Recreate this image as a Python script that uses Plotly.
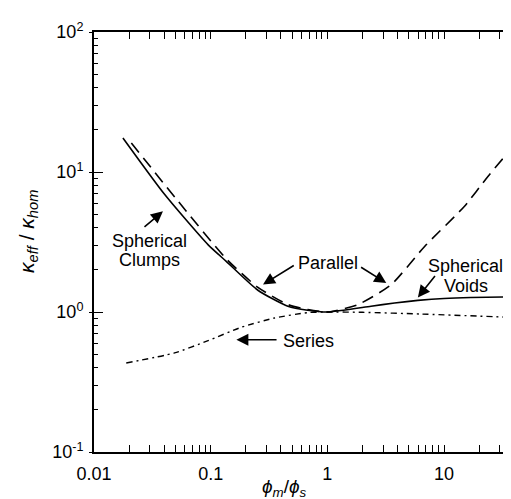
import math
import plotly.graph_objects as go

L = math.log10

# Spherical clumps / voids (solid)
solid_x = [0.0177, 0.0404, 0.0948, 0.136, 0.254, 0.459, 0.68, 1.0, 2.37, 3.77, 5.97, 10.0, 17.0, 36.5]
solid_y = [17.5, 6.9, 3.03, 2.30, 1.43, 1.10, 1.03, 1.0, 1.10, 1.16, 1.21, 1.25, 1.27, 1.28]

# Parallel (dashed)
par_x = [0.0209, 0.0525, 0.136, 0.254, 0.459, 0.68, 1.0, 1.83, 3.53, 6.82, 15.0, 23.8, 37.0]
par_y = [16.1, 6.2, 2.40, 1.50, 1.13, 1.04, 1.0, 1.13, 1.57, 2.94, 5.7, 9.3, 14.4]

# Series (dash-dot)
ser_x = [0.0189, 0.049, 0.095, 0.183, 0.353, 0.68, 1.0, 2.0, 6.4, 36.5]
ser_y = [0.432, 0.51, 0.624, 0.778, 0.906, 0.99, 1.0, 0.995, 0.967, 0.917]

x_tickvals = [0.01, 0.1, 1, 10]
x_ticktext = ["0.01", "0.1", "1", "10"]
y_tickvals = [0.1, 1, 10, 100]
y_ticktext = ["10<sup>-1</sup>", "10<sup>0</sup>", "10<sup>1</sup>", "10<sup>2</sup>"]

# label texts and their positions (data units)
label_text = ["Spherical", "Clumps", "Parallel", "Spherical", "Voids", "Series"]
label_x = [0.030, 0.030, 1.01, 15.3, 15.3, 0.683]
label_y = [3.2, 2.36, 2.24, 2.12, 1.53, 0.618]

# arrows: tail -> head (data units)
arrow_tail_x = [0.0263, 0.531, 1.89, 8.57, 0.378]
arrow_tail_y = [3.98, 2.18, 2.12, 1.85, 0.634]
arrow_head_x = [0.039, 0.281, 3.2, 5.97, 0.166]
arrow_head_y = [5.24, 1.57, 1.61, 1.27, 0.634]

FONT = "Liberation Sans, Arial, sans-serif"

fig = go.Figure()
fig.add_trace(go.Scatter(x=solid_x, y=solid_y, mode="lines", hoverinfo="skip",
                         line=dict(color="black", width=1.6, shape="spline", smoothing=0.6)))
fig.add_trace(go.Scatter(x=par_x, y=par_y, mode="lines", hoverinfo="skip",
                         line=dict(color="black", width=1.6, dash="12px,7px", shape="spline", smoothing=0.6)))
fig.add_trace(go.Scatter(x=ser_x, y=ser_y, mode="lines", hoverinfo="skip",
                         line=dict(color="black", width=1.4, dash="6px,4px,2px,4px", shape="spline", smoothing=0.6)))
# empty trace so the overlay axis (outer tick stubs + labels) is drawn
fig.add_trace(go.Scatter(x=[], y=[], yaxis="y2", mode="lines", hoverinfo="skip"))

for tx, ty, hx, hy in zip(arrow_tail_x, arrow_tail_y, arrow_head_x, arrow_head_y):
    fig.add_annotation(x=L(hx), y=L(hy), ax=L(tx), ay=L(ty),
                       xref="x", yref="y", axref="x", ayref="y",
                       text="", showarrow=True, arrowhead=2, arrowsize=1.5,
                       arrowwidth=1.6, arrowcolor="black")

for t, x, y in zip(label_text, label_x, label_y):
    fig.add_annotation(x=L(x), y=L(y), xref="x", yref="y", text=t,
                       xanchor="center", yanchor="middle",
                       showarrow=False, font=dict(size=18, color="black", family=FONT))

# x axis title (off-centre in reference)
fig.add_annotation(x=L(0.433), y=0, xref="x", yref="paper", yshift=-36,
                   xanchor="center", yanchor="middle",
                   text="<i>ϕ</i><sub><i>m</i></sub>/<i>ϕ</i><sub><i>s</i></sub>",
                   showarrow=False, font=dict(size=19, color="black", family=FONT))
# y axis title
fig.add_annotation(x=0, y=0.5, xref="paper", yref="paper", xshift=-66, yshift=10,
                   xanchor="center", yanchor="middle", textangle=-90,
                   text="<i>κ</i><sub><i>eff</i></sub> / <i>κ</i><sub><i>hom</i></sub>",
                   showarrow=False, font=dict(size=21, color="black", family=FONT))

fig.update_layout(
    width=511, height=499,
    margin=dict(l=86, r=5, t=24, b=55, autoexpand=False),
    paper_bgcolor="white", plot_bgcolor="white",
    showlegend=False,
    font=dict(family=FONT, size=18, color="black"),
    xaxis=dict(type="log", range=[-2, 1.6], showgrid=False, zeroline=False, automargin=False,
               showline=True, linecolor="black", linewidth=1.5, mirror="allticks",
               ticks="inside", ticklen=7, tickwidth=1.3, tickcolor="black",
               tickvals=x_tickvals, ticktext=x_ticktext, ticklabelstandoff=5,
               tickfont=dict(size=18, family=FONT),
               minor=dict(ticks="inside", ticklen=4, tickwidth=1.2, tickcolor="black", dtick="D1")),
    yaxis=dict(type="log", range=[-1, 2], showgrid=False, zeroline=False, automargin=False,
               showline=True, linecolor="black", linewidth=1.5, mirror="allticks",
               ticks="inside", ticklen=9, tickwidth=1.3, tickcolor="black",
               tickvals=y_tickvals, showticklabels=False,
               minor=dict(ticks="inside", ticklen=4, tickwidth=1.2, tickcolor="black", dtick="D1")),
    yaxis2=dict(type="log", range=[-1, 2], overlaying="y", anchor="x", side="left",
                showgrid=False, zeroline=False, showline=False, mirror="ticks", automargin=False,
                ticks="outside", ticklen=4, tickwidth=1.3, tickcolor="black",
                tickvals=y_tickvals, ticktext=y_ticktext, ticklabelstandoff=2,
                tickfont=dict(size=18, family=FONT)),
)

fig.write_html("out.html")
